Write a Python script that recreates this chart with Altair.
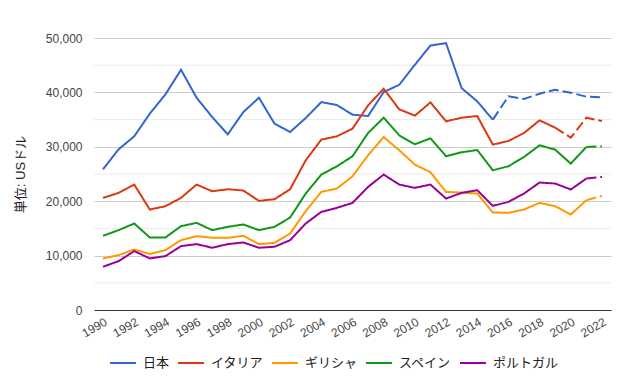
import altair as alt
import pandas as pd

years = list(range(1990, 2023))
countries = ["日本", "イタリア", "ギリシャ", "スペイン", "ポルトガル"]
colors = ["#3366cc", "#dc3912", "#ff9900", "#109618", "#990099"]

japan = [25870, 29540, 31930, 36090, 39630, 44160, 39020, 35470, 32290, 36390,
         39020, 34250, 32720, 35290, 38220, 37680, 35900, 35660, 40060, 41400,
         45080, 48620, 49050, 40790, 38350, 34990, 39270, 38780, 39760, 40490,
         39940, 39210, 39080]
italy = [20610, 21530, 23060, 18470, 19080, 20610, 23060, 21830, 22200, 21960,
         20060, 20370, 22200, 27520, 31320, 31930, 33330, 37610, 40670, 36880,
         35720, 38170, 34680, 35350, 35660, 30400, 31070, 32540, 34860, 33520,
         31690, 35350, 34740]
greece = [9480, 10090, 11130, 10280, 11010, 12840, 13580, 13270, 13270, 13640,
          12110, 12350, 14070, 18170, 21710, 22330, 24590, 28440, 31800, 29360,
          26730, 25320, 21710, 21590, 21410, 17930, 17860, 18470, 19690, 19080,
          17560, 20180, 20980]
spain = [13640, 14680, 15900, 13330, 13330, 15410, 16020, 14680, 15290, 15720,
         14680, 15290, 17000, 21410, 24890, 26420, 28260, 32540, 35350, 32110,
         30460, 31560, 28260, 28990, 29410, 25690, 26420, 28130, 30280, 29480,
         26910, 29970, 30090]
portugal = [7950, 8990, 10830, 9480, 9910, 11740, 12110, 11440, 12110, 12420,
            11440, 11620, 12840, 15900, 18040, 18780, 19690, 22630, 24890, 23060,
            22450, 23060, 20490, 21530, 22020, 19140, 19870, 21410, 23430, 23250,
            22150, 24160, 24460]
# first year of the estimated (dashed) part for each series
estimate_from = [2015, 2019, 2021, 2021, 2021]

minor_grid = [5000, 15000, 25000, 35000, 45000]
x_ticks = list(range(1990, 2023, 2))
y_ticks = [0, 10000, 20000, 30000, 40000, 50000]

series = [japan, italy, greece, spain, portugal]
rows = []
for name, vals, start in zip(countries, series, estimate_from):
    for yr, v in zip(years, vals):
        if yr <= start:
            rows.append({"country": name, "year": yr, "value": v, "seg": "solid"})
        if yr >= start:
            rows.append({"country": name, "year": yr, "value": v, "seg": "dashed"})
df = pd.DataFrame(rows)
grid_df = pd.DataFrame({"v": minor_grid})

FONT = "Liberation Sans, Arial, Noto Sans CJK JP"

minor = alt.Chart(grid_df).mark_rule(color="#ebebeb", strokeWidth=1).encode(
    y=alt.Y("v:Q", scale=alt.Scale(domain=[0, 50000]))
)

lines = alt.Chart(df).mark_line(strokeWidth=2).encode(
    x=alt.X("year:Q",
            scale=alt.Scale(domain=[1989.42, 2022.58], nice=False, zero=False),
            axis=alt.Axis(values=x_ticks, format="d", labelAngle=-30, labelAlign="right",
                          labelBaseline="top", labelPadding=6, grid=False,
                          domainColor="#333", domainWidth=1.2, title=None,
                          labelColor="#444", labelFontSize=12)),
    y=alt.Y("value:Q",
            scale=alt.Scale(domain=[0, 50000], nice=False),
            axis=alt.Axis(values=y_ticks, format=",d", domain=False, gridColor="#cccccc",
                          labelPadding=12, title="単位: USドル", titleFontSize=13,
                          titleFontWeight="normal", titleColor="#222",
                          titleX=-74, titleY=136, titleAngle=-90, titleAlign="center",
                          titleBaseline="middle",
                          labelColor="#444", labelFontSize=12)),
    color=alt.Color("country:N",
                    scale=alt.Scale(domain=countries, range=colors),
                    sort=countries,
                    legend=alt.Legend(title=None, orient="none", direction="horizontal",
                                      legendX=15, legendY=311, symbolType="stroke",
                                      symbolSize=676, symbolStrokeWidth=2,
                                      labelFontSize=13, labelColor="#222",
                                      labelOffset=6, columnPadding=4)),
    strokeDash=alt.StrokeDash("seg:N",
                              scale=alt.Scale(domain=["solid", "dashed"],
                                              range=[[1, 0], [10, 4]]),
                              legend=None),
    order="year:Q",
)

chart = alt.layer(minor, lines).properties(
    width=517, height=272,
    autosize=alt.AutoSizeParams(type="none"),
    padding={"left": 86, "top": 30, "right": 10, "bottom": 73},
).configure_axis(
    ticks=False, tickSize=0, labelFont=FONT, titleFont=FONT,
).configure_legend(
    labelFont=FONT,
).configure_view(stroke=None)

chart.save("out.html", embed_options={"renderer": "svg", "actions": False})
